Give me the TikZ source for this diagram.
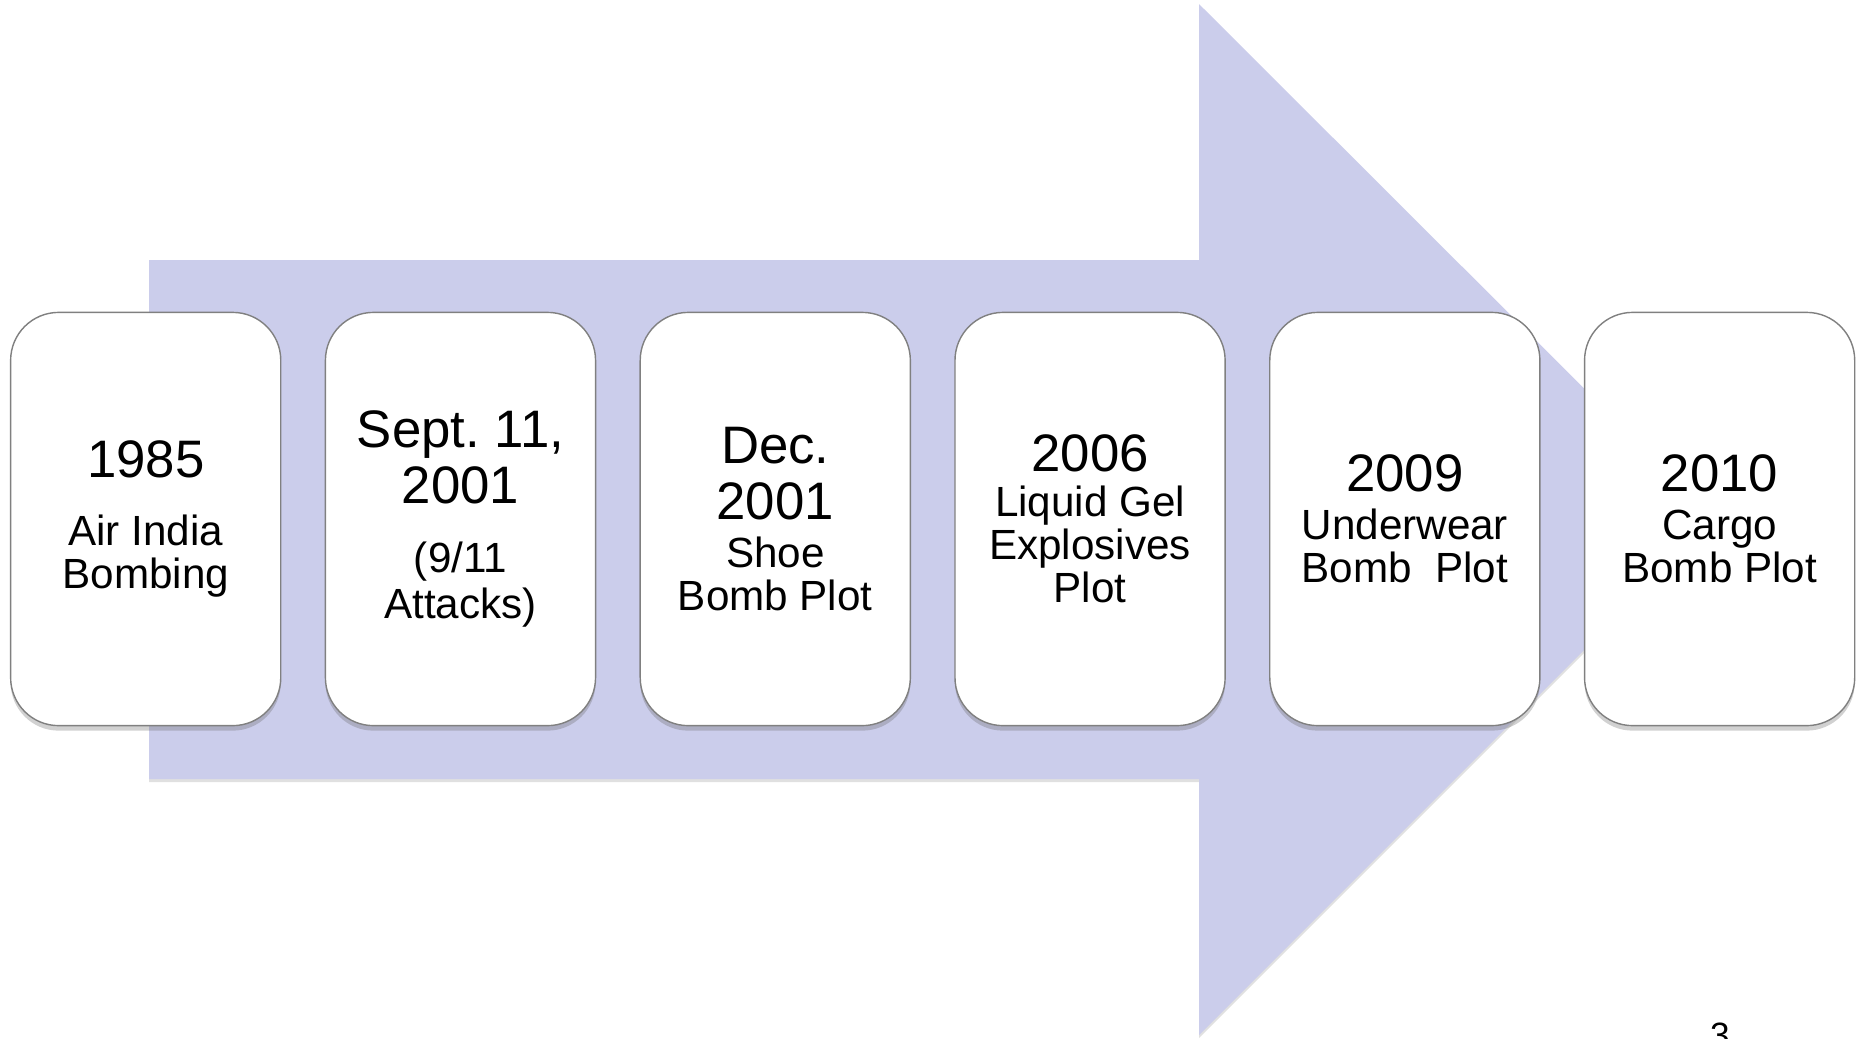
\documentclass[tikz,border=0pt]{standalone}
\usepackage{fontspec}
\setmainfont{Liberation Sans}
\usepackage{tikz}
\usetikzlibrary{positioning,shadows}
\definecolor{lavender}{RGB}{203,205,235}
\tikzset{%
	event/.style = {draw=black!50, fill=white, rectangle, rounded corners=0.48cm, minimum width=2.7cm, minimum height=4.13cm, inner sep=0pt, align=center, font=\sub, drop shadow={shadow xshift=0pt, shadow yshift=-0.05cm, opacity=0.3, fill=black!60}},
	band/.style  = {fill=lavender, draw=none},
}
\newcommand{\yr}{\fontsize{15}{16}\selectfont}
\newcommand{\sub}{\fontsize{12}{12.3}\selectfont}

\begin{document}
\begin{tikzpicture}[x=0.01cm,y=-0.01cm]
		\useasboundingbox (0,0) rectangle (1865,1038);
		
		% big arrow
		\fill[band, drop shadow={shadow xshift=0pt, shadow yshift=-0.03cm, opacity=0.2, fill=black!60}] (149,260) -- (1199,260) -- (1199,4) -- (1715,519) -- (1199,1035) -- (1199,779) -- (149,779) -- cycle;
		
		% events
		\node[event] (e1985) at (145.7,519) {\yr 1985\\[7pt]Air India\\Bombing};
		\node[event, right=0.432cm of e1985] (e2001a) {\yr Sept.\ 11,\\[1.3pt]\yr 2001\\[7.3pt](9/11\\[1pt]Attacks)};
		\node[event, right=0.432cm of e2001a] (e2001b) {\yr Dec.\\[3.8pt]\yr 2001\\[1.2pt]Shoe\\Bomb Plot};
		\node[event, right=0.432cm of e2001b] (e2006) {\yr 2006\\[0.3pt]Liquid Gel\\Explosives\\Plot};
		\node[event, right=0.432cm of e2006] (e2009) {\yr 2009\\[1.2pt]Underwear\\Bomb\ \ Plot};
		\node[event, right=0.432cm of e2009] (e2010) {\yr 2010\\[1.2pt]Cargo\\Bomb Plot};
		
		% slide number
		\node[anchor=north, inner sep=0pt, font=\fontsize{10}{12}\selectfont] (num) at (1720,1022) {3};
		
\end{tikzpicture}
\end{document}
